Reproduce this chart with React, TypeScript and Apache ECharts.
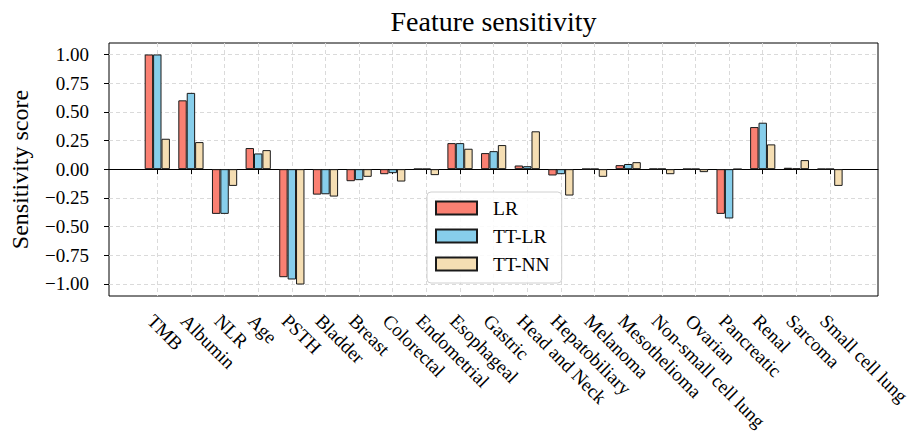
import React, { useEffect, useRef } from 'react';
import * as echarts from 'echarts';

const categories = [
  'TMB', 'Albumin', 'NLR', 'Age', 'PSTH', 'Bladder', 'Breast', 'Colorectal',
  'Endometrial', 'Esophageal', 'Gastric', 'Head and Neck', 'Hepatobiliary',
  'Melanoma', 'Mesothelioma', 'Non-small cell lung', 'Ovarian', 'Pancreatic',
  'Renal', 'Sarcoma', 'Small cell lung',
];
const seriesNames = ['LR', 'TT-LR', 'TT-NN'];
const lrValues = [1.0, 0.6, -0.39, 0.184, -0.942, -0.222, -0.105, -0.044, 0.002, 0.227, 0.14, 0.032, -0.055, 0.002, 0.035, 0.003, 0.002, -0.39, 0.367, 0.012, 0.002];
const ttLrValues = [1.0, 0.665, -0.39, 0.137, -0.962, -0.219, -0.096, -0.035, 0.002, 0.227, 0.157, 0.026, -0.044, 0.002, 0.045, 0.003, 0.002, -0.43, 0.405, 0.006, 0.002];
const ttNnValues = [0.265, 0.236, -0.146, 0.166, -1.006, -0.239, -0.067, -0.108, -0.052, 0.178, 0.21, 0.33, -0.23, -0.067, 0.061, -0.044, -0.026, 0.0, 0.216, 0.079, -0.146];
const yTickValues = [-1, -0.75, -0.5, -0.25, 0, 0.25, 0.5, 0.75, 1];
const chartTitle = 'Feature sensitivity';
const yAxisTitle = 'Sensitivity score';

const colors = ['#FA8072', '#87CEEB', '#F5DEB3'];
const FONT = 'Liberation Serif';

export default function App() {
  const ref = useRef<HTMLDivElement>(null);
  useEffect(() => {
    document.body.style.margin = '0';
    const chart = echarts.init(ref.current as HTMLDivElement, null, { renderer: 'svg' });
    const yMin = -1.106;
    const yMax = 1.1;
    const fmt = (v: number) => (v < -1e-9 ? '\u2212' : '') + Math.abs(v).toFixed(2);
    const gridLine = { show: true, lineStyle: { color: '#dadada', type: [4, 3], width: 1 } };
    const valuesList = [lrValues, ttLrValues, ttNnValues];
    const option: any = {
      animation: false,
      backgroundColor: '#ffffff',
      textStyle: { fontFamily: FONT },
      graphic: [
        {
          type: 'text',
          x: 493.5,
          y: 21,
          style: {
            text: chartTitle,
            fontSize: 28,
            fontFamily: FONT,
            fill: '#000',
            align: 'center',
            verticalAlign: 'middle',
          },
        },
      ],
      legend: {
        data: seriesNames,
        orient: 'vertical',
        left: 427,
        top: 192,
        itemWidth: 41,
        itemHeight: 13,
        itemGap: 8,
        padding: [6, 12, 9, 8],
        icon: 'rect',
        backgroundColor: 'rgba(255,255,255,0.85)',
        borderColor: '#d0d0d0',
        borderWidth: 1,
        borderRadius: 4,
        textStyle: { fontSize: 19.5, fontFamily: FONT, color: '#000', lineHeight: 20, padding: [0, 0, 0, 11] },
      },
      grid: [
        { left: 109, right: 38, top: 43, bottom: 140, show: true, borderColor: '#000', borderWidth: 1, backgroundColor: 'transparent' },
        { left: 157.3, right: 86, top: 43, bottom: 140 },
      ],
      xAxis: [
        {
          gridIndex: 0,
          type: 'value',
          min: 0,
          max: 1,
          axisLine: { show: true, onZero: true, lineStyle: { color: '#000', width: 1 } },
          axisTick: { show: false },
          axisLabel: { show: false },
          splitLine: { show: false },
        },
        {
          gridIndex: 1,
          type: 'category',
          data: categories,
          boundaryGap: false,
          axisLine: { show: false },
          axisTick: { show: true, length: 5, lineStyle: { color: '#000' } },
          axisLabel: {
            interval: 0,
            rotate: -45,
            align: 'left',
            verticalAlign: 'top',
            lineHeight: 19,
            margin: 15,
            fontSize: 19,
            fontFamily: FONT,
            color: '#000',
          },
          splitLine: gridLine,
        },
      ],
      yAxis: [
        {
          gridIndex: 0,
          type: 'value',
          min: yMin,
          max: yMax,
          axisLine: { show: false },
          axisTick: { show: true, length: 5, customValues: yTickValues, lineStyle: { color: '#000' } },
          axisLabel: {
            customValues: yTickValues,
            formatter: fmt,
            fontSize: 19,
            fontFamily: FONT,
            color: '#000',
            margin: 20,
          },
          splitLine: gridLine,
          name: yAxisTitle,
          nameLocation: 'middle',
          nameGap: 77,
          nameTextStyle: { fontSize: 24, fontFamily: FONT, color: '#000' },
        },
        { gridIndex: 1, type: 'value', min: yMin, max: yMax, show: false },
      ],
      series: seriesNames.map((name, i) => ({
        name,
        type: 'bar',
        xAxisIndex: 1,
        yAxisIndex: 1,
        data: valuesList[i],
        barWidth: '25%',
        barGap: '0%',
        clip: false,
        itemStyle: { color: colors[i], borderColor: '#1a1a1a', borderWidth: 1 },
      })),
    };
    chart.setOption(option);
    return () => chart.dispose();
  }, []);
  return <div ref={ref} style={{ width: 916, height: 436 }} />;
}
